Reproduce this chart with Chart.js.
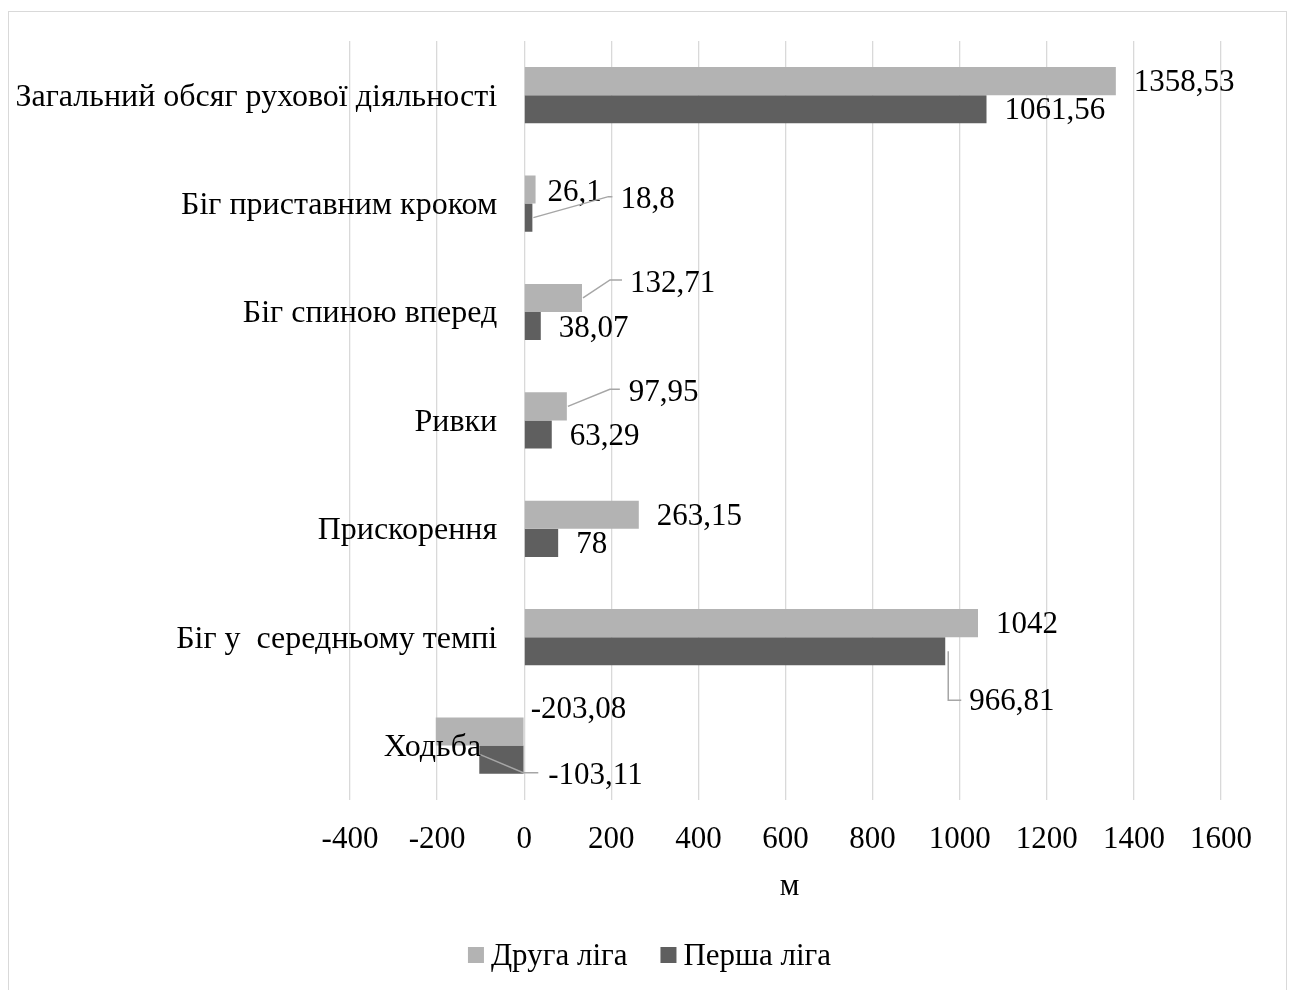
<!DOCTYPE html>
<html><head><meta charset="utf-8">
<script src="https://cdn.jsdelivr.net/npm/chart.js@4.4.0/dist/chart.umd.min.js"></script>
<style>
html,body{margin:0;padding:0;background:#fff;overflow:hidden;}
#frame{position:absolute;left:8px;top:11px;width:1277px;height:1000px;border:1px solid #d9d9d9;}
#wrap{position:absolute;left:0;top:0;width:1291px;height:990px;}
</style></head><body>
<div id="frame"></div>
<div id="wrap"><canvas id="c" width="1291" height="990"></canvas></div>
<script>
const categories = ['Загальний обсяг рухової діяльності','Біг приставним кроком','Біг спиною вперед','Ривки','Прискорення','Біг у  середньому темпі','Ходьба'];
const seriesNames = ['Друга ліга','Перша ліга'];
const secondLeague = [1358.53, 26.1, 132.71, 97.95, 263.15, 1042, -203.08];
const firstLeague = [1061.56, 18.8, 38.07, 63.29, 78, 966.81, -103.11];
const xMin = -400, xMax = 1600, xStep = 200;
const axisTitle = 'м';

const FONT = 'Liberation Serif, Times New Roman, serif';
const colors = ['#b3b3b3', '#5f5f5f'];

// label placement relative to bar end (offsets in px), with optional leader lines
const labelLayout = [
  [{dx:18,dy:0},{dx:12,dy:1},{dx:48,dy:-16,lead:[[1,0],[28,-18],[40,-18]]},{dx:62,dy:-16,lead:[[1,0],[43,-17],[53,-17]]},{dx:18,dy:0},{dx:18,dy:0},{dx:95,dy:-24}],
  [{dx:18,dy:0},{dx:88,dy:-20,lead:[[1,0],[76,-21],[80,-21]]},{dx:18,dy:1},{dx:18,dy:0},{dx:18,dy:0},{dx:24,dy:49,lead:[[3,0],[3,49],[16,49]]},{dx:69,dy:14,lead:[[1,-5],[44,13],[59,13]]}]
];
const catLabelShift = [0,0,0,0,0,0,-16];

const fmt = v => String(v).replace('.', ',');

const overlay = {
  id:'overlay',
  afterDatasetsDraw(chart){
    const ctx = chart.ctx;
    const xs = chart.scales.x, ys = chart.scales.y;
    const area = chart.chartArea;
    ctx.save();
    // category labels next to the zero line
    ctx.font = '32px ' + FONT;
    ctx.fillStyle = '#000';
    ctx.textAlign = 'right';
    ctx.textBaseline = 'middle';
    const x0 = xs.getPixelForValue(0);
    categories.forEach((c,i)=>{
      ctx.fillText(c, x0 - 27 + catLabelShift[i], ys.getPixelForTick(i) + 2);
    });
    // data labels
    ctx.font = '31px ' + FONT;
    ctx.textAlign = 'left';
    chart.data.datasets.forEach((ds,di)=>{
      const meta = chart.getDatasetMeta(di);
      meta.data.forEach((el,j)=>{
        const L = labelLayout[di][j];
        const bx = el.x, by = el.y;
        if (L.lead){
          ctx.strokeStyle = '#a6a6a6';
          ctx.lineWidth = 1.5;
          ctx.beginPath();
          L.lead.forEach((p,k)=>{ k ? ctx.lineTo(bx+p[0], by+p[1]) : ctx.moveTo(bx+p[0], by+p[1]); });
          ctx.stroke();
        }
        ctx.fillStyle = '#000';
        ctx.fillText(fmt(ds.data[j]), bx + L.dx, by + L.dy + 2);
      });
    });
    // axis title
    ctx.textAlign = 'center';
    ctx.fillText(axisTitle, (area.left + area.right)/2 + 4, area.bottom + 87);
    // legend
    ctx.textAlign = 'left';
    const box = 16, gapText = 7, gapItem = 33;
    const widths = chart.data.datasets.map(ds => box + gapText + ctx.measureText(ds.label).width);
    const total = widths.reduce((a,b)=>a+b,0) + gapItem*(widths.length-1);
    let lx = chart.width/2 + 4 - total/2;
    const ly = 955;
    chart.data.datasets.forEach((ds,i)=>{
      ctx.fillStyle = ds.backgroundColor;
      ctx.fillRect(lx, ly - box/2, box, box);
      ctx.fillStyle = '#000';
      ctx.fillText(ds.label, lx + box + gapText, ly + 2);
      lx += widths[i] + gapItem;
    });
    ctx.restore();
  }
};

new Chart(document.getElementById('c'), {
  type:'bar',
  data:{
    labels: categories,
    datasets:[
      {label: seriesNames[0], data: secondLeague, backgroundColor: colors[0], borderWidth:0, categoryPercentage:0.518, barPercentage:1},
      {label: seriesNames[1], data: firstLeague, backgroundColor: colors[1], borderWidth:0, categoryPercentage:0.518, barPercentage:1}
    ]
  },
  options:{
    responsive:false, animation:false, devicePixelRatio:1,
    indexAxis:'y',
    layout:{padding:{top:41,right:70,bottom:111,left:0}},
    scales:{
      x:{min:xMin,max:xMax,
         ticks:{stepSize:xStep, font:{family:FONT,size:31}, color:'#000', padding:21, callback:v=>String(v)},
         grid:{color:'#d9d9d9', lineWidth:1.3, drawTicks:false},
         border:{display:false},
         title:{display:false}},
      y:{ticks:{display:false}, grid:{display:false}, border:{display:false}, afterFit(s){s.width=350;}}
    },
    plugins:{
      legend:{display:false},
      tooltip:{enabled:false}
    }
  },
  plugins:[overlay]
});
</script>
</body></html>
